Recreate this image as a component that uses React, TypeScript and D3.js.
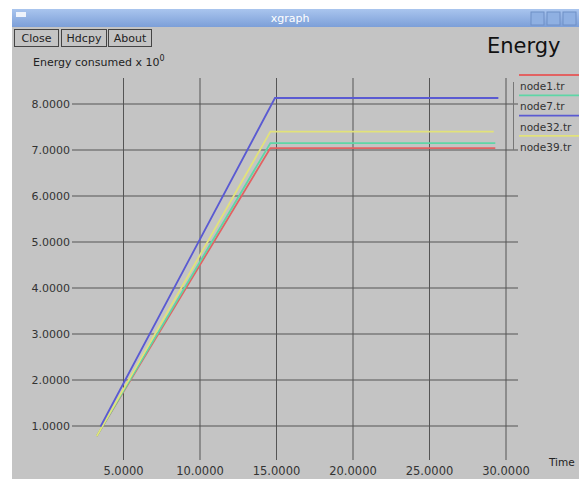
import React from "react"
import { scaleLinear, line } from "d3"

// series data
const seriesNames = ["node1.tr", "node7.tr", "node32.tr", "node39.tr"]
const seriesColors = ["#e26262", "#5ed6a6", "#5a5ad2", "#e2e27a"]

const node1Time = [3.25, 14.6, 29.3]
const node1Energy = [0.78, 7.04, 7.04]
const node7Time = [3.25, 14.6, 29.3]
const node7Energy = [0.78, 7.15, 7.15]
const node32Time = [3.5, 14.9, 29.5]
const node32Energy = [0.99, 8.13, 8.13]
const node39Time = [3.25, 14.6, 29.2]
const node39Energy = [0.78, 7.4, 7.4]

const xTicks = [5, 10, 15, 20, 25, 30]
const yTicks = [1, 2, 3, 4, 5, 6, 7, 8]
const buttons = ["Close", "Hdcpy", "About"]

type P = { t: number; e: number }

const zip = (ts: number[], es: number[]): P[] =>
  ts.map((t, i) => ({ t, e: es[i] }))

const series = [
  zip(node1Time, node1Energy),
  zip(node7Time, node7Energy),
  zip(node32Time, node32Energy),
  zip(node39Time, node39Energy),
]
const drawOrder = [0, 1, 3, 2]

const App = () => {
  const width = 579
  const height = 479
  const font = "'DejaVu Sans', sans-serif"

  // 1. scales
  const xScale = scaleLinear().domain([5, 30]).range([123.5, 506])
  const yScale = scaleLinear().domain([1, 8]).range([426, 104])

  const gridLeft = 72
  const gridRight = 518
  const gridTop = 78
  const gridBottom = 460

  const path = line<P>()
    .x((d) => xScale(d.t))
    .y((d) => yScale(d.e))

  return (
    <svg
      width={width}
      height={height}
      style={{ position: "fixed", left: 0, top: 0 }}
      fontFamily={font}
    >
      <defs>
        <linearGradient id="title" x1="0" y1="0" x2="0" y2="1">
          <stop offset="0" stopColor="#a9c5ee" />
          <stop offset="1" stopColor="#7c9fd8" />
        </linearGradient>
      </defs>
      <rect width={width} height={height} fill="#ffffff" />
      {/* window */}
      <rect x={12} y={9} width={width - 12} height={height - 9} fill="#c4c4c4" />
      <rect x={12} y={9} width={width - 12} height={18} fill="url(#title)" />
      <rect x={16} y={12} width={10} height={5} fill="#eef3fb" />
      <text x={290} y={22} fill="#ffffff" fontSize={11} textAnchor="middle">
        xgraph
      </text>
      {[0, 1, 2].map((i) => (
        <rect
          key={i}
          x={531 + i * 16}
          y={12}
          width={13}
          height={13}
          fill="#8fb0e2"
          stroke="#6f8fc6"
        />
      ))}

      {/* buttons */}
      {buttons.map((b, i) => {
        const bx = [14, 61, 108][i]
        const bw = [44, 45, 43][i]
        return (
          <g key={b}>
            <rect
              x={bx + 0.5}
              y={29.5}
              width={bw}
              height={17}
              fill="#c4c4c4"
              stroke="#444"
            />
            <text
              x={bx + bw / 2 + 0.5}
              y={42}
              fontSize={11}
              textAnchor="middle"
              fill="#222"
            >
              {b}
            </text>
          </g>
        )
      })}

      <text x={487} y={53} fontSize={21} fill="#111">
        Energy
      </text>
      <text x={33} y={66} fontSize={11} fill="#222">
        Energy consumed x 10
        <tspan dy={-5} fontSize={8}>
          0
        </tspan>
      </text>

      {/* grid */}
      {yTicks.map((v) => (
        <g key={v}>
          <line
            x1={gridLeft}
            x2={gridRight}
            y1={yScale(v)}
            y2={yScale(v)}
            stroke="#555"
          />
          <text
            x={70}
            y={yScale(v) + 4}
            fontSize={11}
            textAnchor="end"
            fill="#333"
          >
            {v.toFixed(4)}
          </text>
        </g>
      ))}
      {xTicks.map((v) => (
        <g key={v}>
          <line
            x1={xScale(v)}
            x2={xScale(v)}
            y1={gridTop}
            y2={gridBottom}
            stroke="#555"
          />
          <text
            x={xScale(v)}
            y={475}
            fontSize={11.5}
            textAnchor="middle"
            fill="#333"
          >
            {v.toFixed(4)}
          </text>
        </g>
      ))}
      <text x={549} y={466} fontSize={10.5} fill="#222">
        Time
      </text>

      {/* data */}
      {drawOrder.map((i) => (
        <path
          key={seriesNames[i]}
          d={path(series[i]) ?? ""}
          fill="none"
          stroke={seriesColors[i]}
          strokeWidth={1.8}
        />
      ))}

      {/* legend */}
      <line x1={513.5} x2={513.5} y1={82} y2={150} stroke="#777" />
      {seriesNames.map((n, i) => {
        const ly = 75 + i * 20.3
        return (
          <g key={n}>
            <line
              x1={519}
              x2={width}
              y1={ly}
              y2={ly}
              stroke={seriesColors[i]}
              strokeWidth={1.8}
            />
            <text x={520} y={ly + 15} fontSize={10.5} fill="#333">
              {n}
            </text>
          </g>
        )
      })}
    </svg>
  )
}

export default App
